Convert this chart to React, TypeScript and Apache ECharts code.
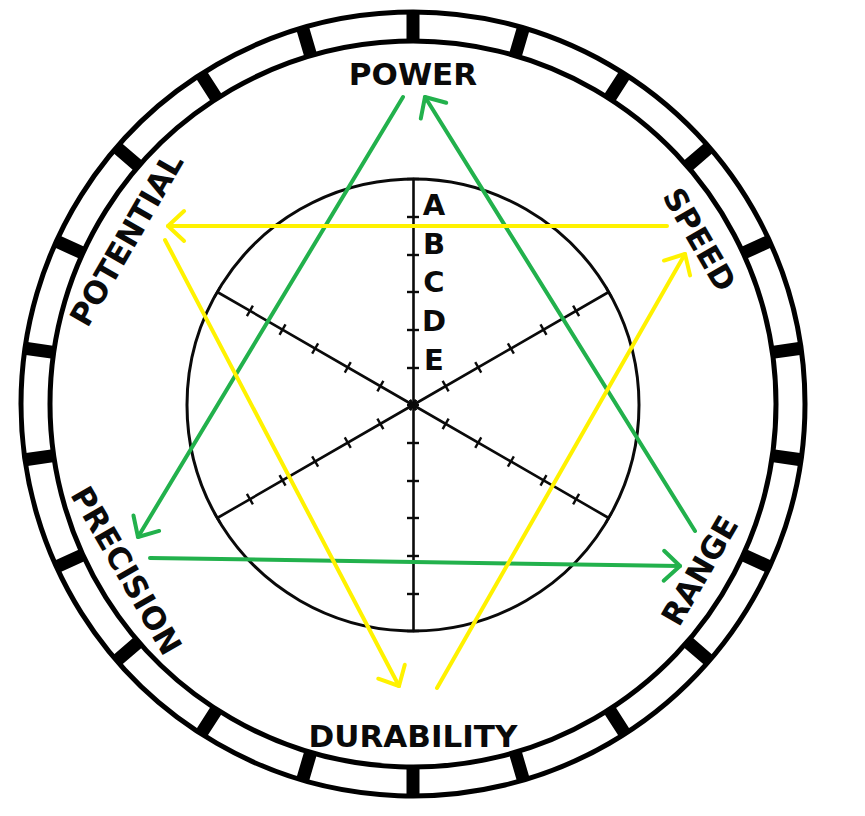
import React, { useEffect, useRef } from 'react';
import * as echarts from 'echarts';

// ---- data ----
const STATS = ['POWER', 'SPEED', 'RANGE', 'DURABILITY', 'PRECISION', 'POTENTIAL'];
const GRADES = ['A', 'B', 'C', 'D', 'E'];
const GRADE_MAX = 6;
const RING_SEGMENTS = 22;
// arrows [x1, y1, x2, y2] relative to the chart centre (y up); head at (x2, y2)
const GREEN_ARROWS = [
  [-10, 308, -275, -132],
  [-263, -153, 267, -161],
  [282, -126, 12, 308],
];
const YELLOW_ARROWS = [
  [254, 179, -245, 179],
  [-248, 165, -14, -281],
  [24, -283, 272, 151],
];

// ---- layout ----
const W = 865;
const H = 816;
const CX = 413;
const CY = 405;
const INNER_R = 226;
const RING_R0 = 363;
const RING_R = 392;
const LABEL_R = 331;
const GRADE_X = 21;
const GRADE_BASE = 45;
const GRADE_STEP = 38.8;
const GREEN = '#22B14C';
const YELLOW = '#FFF200';
const INK = '#0a0a0a';
const FONT = 'DejaVu Sans';

const arrowRender = (color: string) => (params: any, api: any) => {
  const a = api.coord([api.value(0), api.value(1)]);
  const b = api.coord([api.value(2), api.value(3)]);
  const ang = Math.atan2(a[1] - b[1], a[0] - b[0]);
  const L = 22;
  const spread = 0.75;
  const p1 = [b[0] + L * Math.cos(ang + spread), b[1] + L * Math.sin(ang + spread)];
  const p2 = [b[0] + L * Math.cos(ang - spread), b[1] + L * Math.sin(ang - spread)];
  return {
    type: 'group',
    children: [
      {
        type: 'line',
        shape: { x1: a[0], y1: a[1], x2: b[0], y2: b[1] },
        style: { stroke: color, lineWidth: 4, lineCap: 'round' },
      },
      {
        type: 'polyline',
        shape: { points: [p1, b, p2] },
        style: { stroke: color, lineWidth: 4, fill: 'none', lineCap: 'round', lineJoin: 'round' },
      },
    ],
  };
};

const baseRadar = {
  center: [CX, CY],
  radius: INNER_R,
  startAngle: 90,
  shape: 'circle',
  indicator: STATS.map((n) => ({ name: n, min: 0, max: GRADE_MAX })),
  axisName: { show: false },
  splitArea: { show: false },
  axisLabel: { show: false },
};

const statLabels = STATS.map((s, i) => {
  const deg = i * 60;
  const t = (deg * Math.PI) / 180;
  const top = Math.cos(t) > 0;
  let rot = top ? -deg : 180 - deg;
  if (rot <= -180) rot += 360;
  return {
    name: s,
    value: [LABEL_R * Math.sin(t), LABEL_R * Math.cos(t)],
    label: { rotate: rot },
  };
});

const gradeLabels = GRADES.map((g, i) => ({
  name: g,
  value: [GRADE_X, GRADE_BASE + (GRADES.length - 1 - i) * GRADE_STEP],
}));

const textLabel = (size: number) => ({
  show: true,
  position: 'inside',
  formatter: '{b}',
  color: INK,
  opacity: 1,
  fontSize: size,
  fontWeight: 'bold',
  fontFamily: FONT,
});

const option: any = {
  animation: false,
  backgroundColor: '#ffffff',
  grid: { left: 0, right: 0, top: 0, bottom: 0 },
  xAxis: { type: 'value', min: -CX, max: W - CX, show: false },
  yAxis: { type: 'value', min: CY - H, max: CY, show: false },
  polar: { center: [CX, CY - 1], radius: [RING_R0, RING_R] },
  angleAxis: {
    type: 'value',
    min: 0,
    max: RING_SEGMENTS,
    interval: 1,
    startAngle: 90,
    axisLine: { show: true, lineStyle: { color: '#000', width: 5 } },
    axisTick: { show: false },
    axisLabel: { show: false },
    splitLine: { show: true, lineStyle: { color: '#000', width: 13 } },
    splitArea: { show: false },
  },
  radiusAxis: {
    type: 'value',
    min: 0,
    max: 1,
    axisLine: { show: false },
    axisTick: { show: false },
    axisLabel: { show: false },
    splitLine: { show: false },
  },
  radar: [
    {
      ...baseRadar,
      splitNumber: GRADE_MAX,
      splitLine: { show: false },
      axisLine: { show: true, lineStyle: { color: INK, width: 2.6 } },
      axisTick: { show: true, length: 6, lineStyle: { color: INK, width: 2.4 } },
    },
    {
      ...baseRadar,
      splitNumber: GRADE_MAX,
      splitLine: { show: false },
      axisLine: { show: false },
      axisTick: { show: true, length: -6, lineStyle: { color: INK, width: 2.4 } },
    },
    {
      ...baseRadar,
      splitNumber: 1,
      splitLine: { show: true, lineStyle: { color: INK, width: 3 } },
      axisLine: { show: false },
      axisTick: { show: false },
    },
  ],
  series: [
    { type: 'radar', radarIndex: 0, data: [] },
    { type: 'line', coordinateSystem: 'polar', data: [] },
    {
      type: 'scatter',
      symbolSize: 0,
      itemStyle: { opacity: 1 },
      data: statLabels,
      silent: true,
      z: 5,
      label: textLabel(31),
    },
    {
      type: 'scatter',
      symbolSize: 0,
      itemStyle: { opacity: 1 },
      data: gradeLabels,
      silent: true,
      z: 5,
      label: textLabel(29),
    },
    {
      type: 'custom',
      coordinateSystem: 'cartesian2d',
      renderItem: arrowRender(GREEN),
      data: GREEN_ARROWS,
      encode: { x: [0, 2], y: [1, 3] },
      clip: false,
      silent: true,
      z: 10,
    },
    {
      type: 'custom',
      coordinateSystem: 'cartesian2d',
      renderItem: arrowRender(YELLOW),
      data: YELLOW_ARROWS,
      encode: { x: [0, 2], y: [1, 3] },
      clip: false,
      silent: true,
      z: 11,
    },
  ],
};

export default function App() {
  const ref = useRef<HTMLDivElement>(null);
  useEffect(() => {
    document.body.style.margin = '0';
    const chart = echarts.init(ref.current as HTMLDivElement, null, { renderer: 'svg' });
    chart.setOption(option);
    return () => chart.dispose();
  }, []);
  return <div ref={ref} style={{ width: W, height: H, background: '#fff' }} />;
}
